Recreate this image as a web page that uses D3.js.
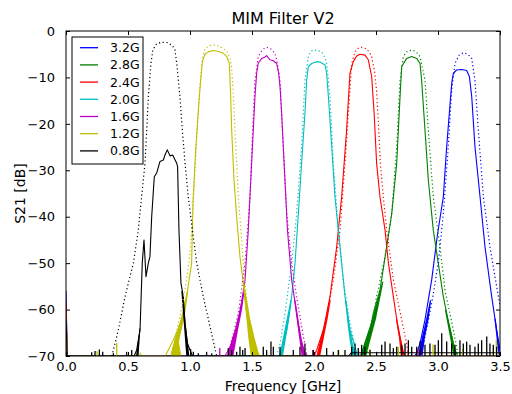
<!DOCTYPE html>
<html><head><meta charset="utf-8">
<script src="https://cdn.jsdelivr.net/npm/d3@7"></script>
<style>body{margin:0;background:#fff}text{font-family:"DejaVu Sans",sans-serif;fill:#000}</style>
</head><body><svg id="c" width="512" height="394"></svg>
<script>
const freqTicks=[0,0.5,1,1.5,2,2.5,3,3.5];
const dbTicks=[0,-10,-20,-30,-40,-50,-60,-70];
const seriesNames=["3.2G","2.8G","2.4G","2.0G","1.6G","1.2G","0.8G"];
const seriesColors=["#0000ff","#008000","#ff0000","#00bfbf","#bf00bf","#bfbf00","#000000"];

// measured S21 [GHz, dB]
const meas32=[[0,-56],[0.01,-70],[2.81,-70],[2.828,-69.4],[2.855,-67.3],[2.895,-62.2],[2.949,-53.6],[2.995,-44],[3.043,-35.7],[3.07,-24.9],[3.102,-14.1],[3.113,-10.8],[3.124,-9.1],[3.15,-8.4],[3.191,-8.3],[3.231,-8.5],[3.253,-9.8],[3.272,-14.1],[3.298,-24.9],[3.339,-35.7],[3.379,-46.5],[3.433,-57.2],[3.473,-64.4],[3.5,-68.7]];
const meas28=[[0,-60],[0.01,-70],[2.38,-70],[2.398,-68.7],[2.452,-64.4],[2.478,-60.8],[2.532,-55.8],[2.586,-46.5],[2.627,-39.3],[2.667,-28.5],[2.694,-14.1],[2.707,-7.7],[2.747,-5.9],[2.788,-5.5],[2.828,-5.9],[2.855,-7],[2.868,-10.6],[2.895,-21.3],[2.922,-32.1],[2.962,-42.9],[3.002,-50],[3.043,-57.2],[3.097,-64.4],[3.137,-68.7],[3.16,-70],[3.5,-70]];
const meas24=[[0,-58.5],[0.01,-70],[2.0,-70],[2.022,-68.7],[2.075,-64.4],[2.129,-57.2],[2.183,-46.5],[2.223,-35.7],[2.263,-21.3],[2.29,-9.1],[2.317,-6.6],[2.344,-5.4],[2.371,-5.0],[2.411,-5.2],[2.438,-6.2],[2.465,-9.8],[2.485,-17.7],[2.505,-28.5],[2.532,-35.7],[2.573,-42.9],[2.6,-50],[2.64,-57.2],[2.68,-64.4],[2.707,-68],[2.73,-70],[3.5,-70]];
const meas20=[[0,-62],[0.01,-70],[1.72,-70],[1.74,-68.7],[1.78,-64.4],[1.82,-57.2],[1.847,-50],[1.874,-39.3],[1.9,-28.5],[1.927,-17.7],[1.941,-10.6],[1.954,-7.7],[1.981,-7.0],[2.022,-6.6],[2.048,-6.7],[2.089,-7.3],[2.102,-9.1],[2.116,-14.1],[2.143,-24.9],[2.169,-35.7],[2.21,-46.5],[2.25,-57.2],[2.29,-64.4],[2.33,-68],[2.35,-70],[3.5,-70]];
const meas16=[[0,-62],[0.01,-70],[1.28,-70],[1.296,-69.4],[1.35,-66.6],[1.403,-60.8],[1.444,-53.6],[1.47,-42.9],[1.497,-28.5],[1.524,-14.1],[1.538,-9],[1.55,-7],[1.578,-5.9],[1.605,-5.6],[1.618,-5.3],[1.632,-5.8],[1.645,-6.2],[1.672,-6.4],[1.699,-7],[1.715,-9.1],[1.726,-12],[1.739,-17.7],[1.759,-28.5],[1.786,-42.9],[1.82,-53.6],[1.86,-60.8],[1.887,-65.8],[1.927,-69.4],[1.95,-70],[3.5,-70]];
const meas12=[[0,-62],[0.01,-70],[0.80,-70],[0.825,-68.7],[0.879,-65.8],[0.933,-62.2],[0.973,-57.2],[1.013,-50],[1.024,-37],[1.045,-26],[1.073,-15],[1.085,-11],[1.10,-6.5],[1.121,-5.0],[1.148,-4.5],[1.188,-4.2],[1.228,-4.4],[1.269,-4.8],[1.296,-5.5],[1.317,-7],[1.328,-14.1],[1.336,-21.3],[1.355,-32.1],[1.376,-40],[1.403,-48.6],[1.43,-54.3],[1.457,-60.8],[1.484,-64.4],[1.51,-66.6],[1.538,-68.7],[1.56,-70],[3.5,-70]];
const meas08=[[0,-62],[0.01,-70],[0.55,-70],[0.57,-68.7],[0.597,-64.4],[0.615,-50],[0.629,-45],[0.645,-52.9],[0.664,-50],[0.677,-48.6],[0.691,-40],[0.712,-31.4],[0.731,-30.6],[0.758,-28.1],[0.785,-27.8],[0.798,-26.7],[0.817,-25.6],[0.839,-26.9],[0.86,-26.7],[0.873,-27.4],[0.893,-28.5],[0.90,-29.2],[0.911,-42.9],[0.927,-54.3],[0.946,-57.2],[0.96,-63],[0.973,-66],[0.98,-67.3],[1.0,-68.7],[1.02,-70],[2.28,-70],[2.3,-69.3],[3.5,-69.3]];

// noisy skirt envelopes of the measured traces [dB, GHz low, GHz high]
const band32=[[-58,2.935,2.945],[-62,2.905,2.925],[-66,2.87,2.895],[-70,2.84,2.875]];
const band32r=[[-62,3.455,3.465],[-68,3.48,3.495],[-70,3.49,3.5]];
const band28=[[-54,2.55,2.56],[-58,2.51,2.53],[-62,2.47,2.50],[-66,2.42,2.46],[-70,2.37,2.42]];
const band28r=[[-60,3.055,3.065],[-65,3.09,3.11],[-70,3.125,3.15]];
const band24=[[-58,2.125,2.135],[-62,2.095,2.11],[-66,2.055,2.08],[-70,2.02,2.05]];
const band24r=[[-62,2.66,2.67],[-66,2.685,2.70],[-70,2.70,2.73]];
const band20=[[-58,1.81,1.82],[-62,1.78,1.80],[-66,1.75,1.775],[-70,1.72,1.75]];
const band20r=[[-58,2.25,2.26],[-63,2.27,2.285],[-67,2.29,2.31],[-70,2.31,2.34]];
const band16=[[-56,1.43,1.44],[-60,1.40,1.42],[-64,1.365,1.39],[-67,1.33,1.37],[-70,1.30,1.35]];
const band16r=[[-58,1.84,1.85],[-63,1.865,1.88],[-67,1.885,1.905],[-70,1.90,1.93]];
const band12=[[-56,0.975,0.985],[-60,0.945,0.965],[-64,0.905,0.935],[-67,0.87,0.91],[-70,0.84,0.93]];
const band12r=[[-54,1.425,1.435],[-58,1.44,1.46],[-62,1.455,1.485],[-66,1.47,1.52],[-70,1.49,1.56]];
const band08=[[-64,0.593,0.6],[-70,0.565,0.585]];
const band08r=[[-56,0.93,0.94],[-63,0.95,0.965],[-70,0.97,0.995]];

// simulated S21 [GHz, dB]
const sim32=[[2.85,-70],[2.87,-69],[2.91,-64],[2.96,-57],[3.002,-50],[3.043,-39.3],[3.083,-24.9],[3.11,-12.7],[3.137,-7],[3.17,-5.2],[3.204,-4.7],[3.24,-5.0],[3.272,-5.9],[3.298,-10.6],[3.325,-21.3],[3.366,-35.7],[3.419,-46.5],[3.487,-57.2],[3.5,-59]];
const sim28=[[2.42,-70],[2.45,-66],[2.505,-57.2],[2.573,-48.6],[2.627,-39.3],[2.667,-24.9],[2.694,-10.6],[2.72,-5.5],[2.75,-4.4],[2.788,-4.1],[2.82,-4.4],[2.855,-5.5],[2.895,-10.6],[2.922,-21.3],[2.962,-35.7],[3.016,-46.5],[3.056,-55.8],[3.124,-64.4],[3.15,-68],[3.16,-70]];
const sim24=[[2.02,-70],[2.048,-68],[2.102,-61.5],[2.156,-53.6],[2.21,-42.9],[2.25,-28.5],[2.277,-17.7],[2.304,-7],[2.33,-4.5],[2.36,-3.6],[2.384,-3.5],[2.42,-3.8],[2.445,-4.5],[2.465,-5.5],[2.49,-9],[2.505,-13],[2.52,-20],[2.535,-28.5],[2.56,-36],[2.586,-42.9],[2.64,-53.6],[2.707,-62.2],[2.747,-67.3],[2.76,-70]];
const sim20=[[1.70,-70],[1.726,-67.3],[1.766,-60.8],[1.82,-50],[1.86,-39.3],[1.9,-24.9],[1.927,-10.6],[1.954,-5.5],[1.975,-4.4],[1.995,-4.1],[2.03,-4.2],[2.062,-4.5],[2.09,-5.8],[2.102,-7],[2.129,-14.1],[2.156,-28.5],[2.196,-42.9],[2.236,-53.6],[2.29,-63],[2.33,-68],[2.35,-70]];
const sim16=[[1.29,-70],[1.323,-68],[1.39,-60.8],[1.444,-50],[1.484,-35.7],[1.505,-21.3],[1.524,-10.6],[1.55,-5.5],[1.585,-4],[1.618,-3.5],[1.65,-3.8],[1.685,-4.8],[1.705,-7],[1.726,-10.6],[1.752,-24.9],[1.78,-39.3],[1.82,-50],[1.86,-57.2],[1.914,-65.8],[1.94,-69.4],[1.95,-70]];
const sim12=[[0.85,-70],[0.89,-65],[0.93,-60],[0.97,-54],[1.0,-48],[1.02,-40],[1.04,-30],[1.06,-20],[1.08,-12],[1.10,-6],[1.12,-4],[1.15,-3.2],[1.19,-3.0],[1.23,-3.2],[1.27,-3.8],[1.30,-4.5],[1.325,-6],[1.336,-8],[1.35,-14],[1.363,-21.3],[1.39,-35.7],[1.43,-50],[1.457,-58],[1.484,-64.4],[1.51,-68.7],[1.52,-70]];
const sim08=[[0.37,-70],[0.422,-64.4],[0.476,-57.2],[0.543,-50],[0.583,-42.9],[0.61,-35.7],[0.637,-28.5],[0.651,-21.3],[0.664,-14.1],[0.685,-7],[0.70,-4.1],[0.73,-2.8],[0.77,-2.4],[0.82,-2.5],[0.86,-3.2],[0.879,-4.1],[0.893,-7],[0.919,-14.1],[0.938,-21.3],[0.96,-28.5],[0.986,-35.7],[1.02,-42.9],[1.054,-50],[1.107,-57.2],[1.16,-63.5],[1.215,-70]];

// noise-floor spikes [GHz, dB]
const floorBlack=[[0.207,-69.2],[0.234,-68.9],[0.269,-68.6],[0.296,-69.1],[0.382,-69.4],[0.489,-69.1],[0.53,-68.7],[1.005,-68.5],[1.027,-69.1],[1.067,-69.4],[1.134,-69.1],[1.175,-69.4],[1.309,-68.3],[1.336,-68.7],[1.376,-69.1],[1.403,-68.0],[1.425,-68.7],[1.444,-68.3],[1.591,-68.0],[1.618,-68.7],[1.653,-66.9],[1.672,-68.0],[1.726,-68.0],[1.833,-68.7],[1.887,-68.0],[1.927,-67.3],[1.995,-68.7],[2.102,-68.3],[2.156,-69.1],[2.196,-68.7],[2.25,-68.7],[2.304,-68.0],[2.331,-67.3],[2.357,-68.3],[2.384,-67.6],[2.411,-68.0],[2.452,-68.7],[2.505,-69.1],[2.546,-67.6],[2.573,-66.9],[2.613,-67.3],[2.640,-68.3],[2.667,-68.0],[2.707,-67.6],[2.734,-67.3],[2.761,-66.6],[2.788,-68.0],[2.828,-68.0],[2.855,-66.9],[2.895,-67.6],[2.935,-67.3],[2.976,-67.6],[3.003,-66.6],[3.030,-65.1],[3.070,-66.9],[3.110,-67.3],[3.137,-67.6],[3.177,-66.6],[3.204,-67.3],[3.231,-66.9],[3.258,-67.6],[3.298,-68.0],[3.325,-67.3],[3.352,-66.6],[3.393,-65.8],[3.419,-67.3],[3.446,-67.6],[3.473,-68.0]];
const floorYellow=[[0.25,-69],[0.409,-67.2],[0.60,-69.3],[2.2,-68.8],[2.45,-68.5],[2.68,-68],[2.96,-67.5],[3.2,-68.5],[3.47,-66.5]];
const floorMagenta=[[1.24,-68.3],[1.99,-68.7],[2.36,-69],[2.84,-68.5]];

const measured=[meas32,meas28,meas24,meas20,meas16,meas12,meas08];
const bands=[[band32,band32r],[band28,band28r],[band24,band24r],[band20,band20r],[band16,band16r],[band12,band12r],[band08,band08r]];
const simulated=[sim32,sim28,sim24,sim20,sim16,sim12,sim08];

const svg=d3.select("#c");
const L=66,R=500,T=31,B=356;
const x=d3.scaleLinear().domain([0,3.5]).range([L,R]);
const y=d3.scaleLinear().domain([-70,0]).range([B,T]);

svg.append("defs").append("clipPath").attr("id","clip")
  .append("rect").attr("x",L).attr("y",T).attr("width",R-L).attr("height",B-T);
const plot=svg.append("g").attr("clip-path","url(#clip)");
const line=d3.line().x(d=>x(d[0])).y(d=>y(d[1]));
const bandArea=d3.area().y(d=>y(d[0])).x0(d=>x(d[1])).x1(d=>x(d[2]));

measured.forEach((s,i)=>{
  bands[i].forEach(b=>{
    plot.append("path").attr("d",bandArea(b)).attr("fill",seriesColors[i]);
  });
  plot.append("path").attr("d",line(s)).attr("fill","none")
    .attr("stroke",seriesColors[i]).attr("stroke-width",1.1).attr("stroke-linejoin","round");
});
function spikes(arr,col){
  plot.append("g").selectAll("line").data(arr).join("line")
    .attr("x1",d=>x(d[0])).attr("x2",d=>x(d[0]))
    .attr("y1",y(-70)).attr("y2",d=>y(d[1]))
    .attr("stroke",col).attr("stroke-width",1.3);
}
spikes(floorYellow,seriesColors[5]);
spikes(floorMagenta,seriesColors[4]);
spikes(floorBlack,seriesColors[6]);
simulated.forEach((s,i)=>{
  plot.append("path").attr("d",line(s)).attr("fill","none")
    .attr("stroke",seriesColors[i]).attr("stroke-width",1.2)
    .attr("stroke-dasharray","1.2,2.6");
});

// axes
const fmtY=d=>d===0?"0":"\u2212"+Math.abs(d);
const ax=svg.append("g").attr("transform",`translate(0,${B})`)
  .call(d3.axisBottom(x).tickValues(freqTicks).tickFormat(d3.format(".1f")).tickSizeInner(-4).tickSizeOuter(0).tickPadding(6));
const ay=svg.append("g").attr("transform",`translate(${L},0)`)
  .call(d3.axisLeft(y).tickValues(dbTicks).tickFormat(fmtY).tickSizeInner(-4).tickSizeOuter(0).tickPadding(11));
const at=svg.append("g").attr("transform",`translate(0,${T})`)
  .call(d3.axisTop(x).tickValues(freqTicks).tickFormat("").tickSizeInner(-4).tickSizeOuter(0));
const ar=svg.append("g").attr("transform",`translate(${R},0)`)
  .call(d3.axisRight(y).tickValues(dbTicks).tickFormat("").tickSizeInner(-4).tickSizeOuter(0));
[ax,ay,at,ar].forEach(g=>{
  g.select(".domain").remove();
  g.selectAll(".tick line").attr("stroke","#000").attr("stroke-width",1);
  g.selectAll("text").attr("font-size","13px").attr("font-family","DejaVu Sans").attr("fill","#000");
});
svg.append("rect").attr("x",L).attr("y",T).attr("width",R-L).attr("height",B-T)
  .attr("fill","none").attr("stroke","#000").attr("stroke-width",1);

// titles
svg.append("text").attr("x",(L+R)/2).attr("y",24).attr("text-anchor","middle")
  .attr("font-size","16px").text("MIM Filter V2");
svg.append("text").attr("x",(L+R)/2).attr("y",391).attr("text-anchor","middle")
  .attr("font-size","14px").text("Frequency [GHz]");
svg.append("text").attr("transform",`translate(25,${(T+B)/2}) rotate(-90)`).attr("text-anchor","middle")
  .attr("font-size","14px").text("S21 [dB]");

// legend
const lg=svg.append("g");
lg.append("rect").attr("x",72).attr("y",37).attr("width",71).attr("height",127)
  .attr("fill","#fff").attr("stroke","#000").attr("stroke-width",1);
seriesNames.forEach((n,i)=>{
  const yy=47.7+i*17.2;
  lg.append("line").attr("x1",80).attr("x2",98).attr("y1",yy).attr("y2",yy)
    .attr("stroke",seriesColors[i]).attr("stroke-width",1.3);
  lg.append("text").attr("x",110).attr("y",yy).attr("dy","0.36em")
    .attr("font-size","12.5px").text(n);
});
</script></body></html>
